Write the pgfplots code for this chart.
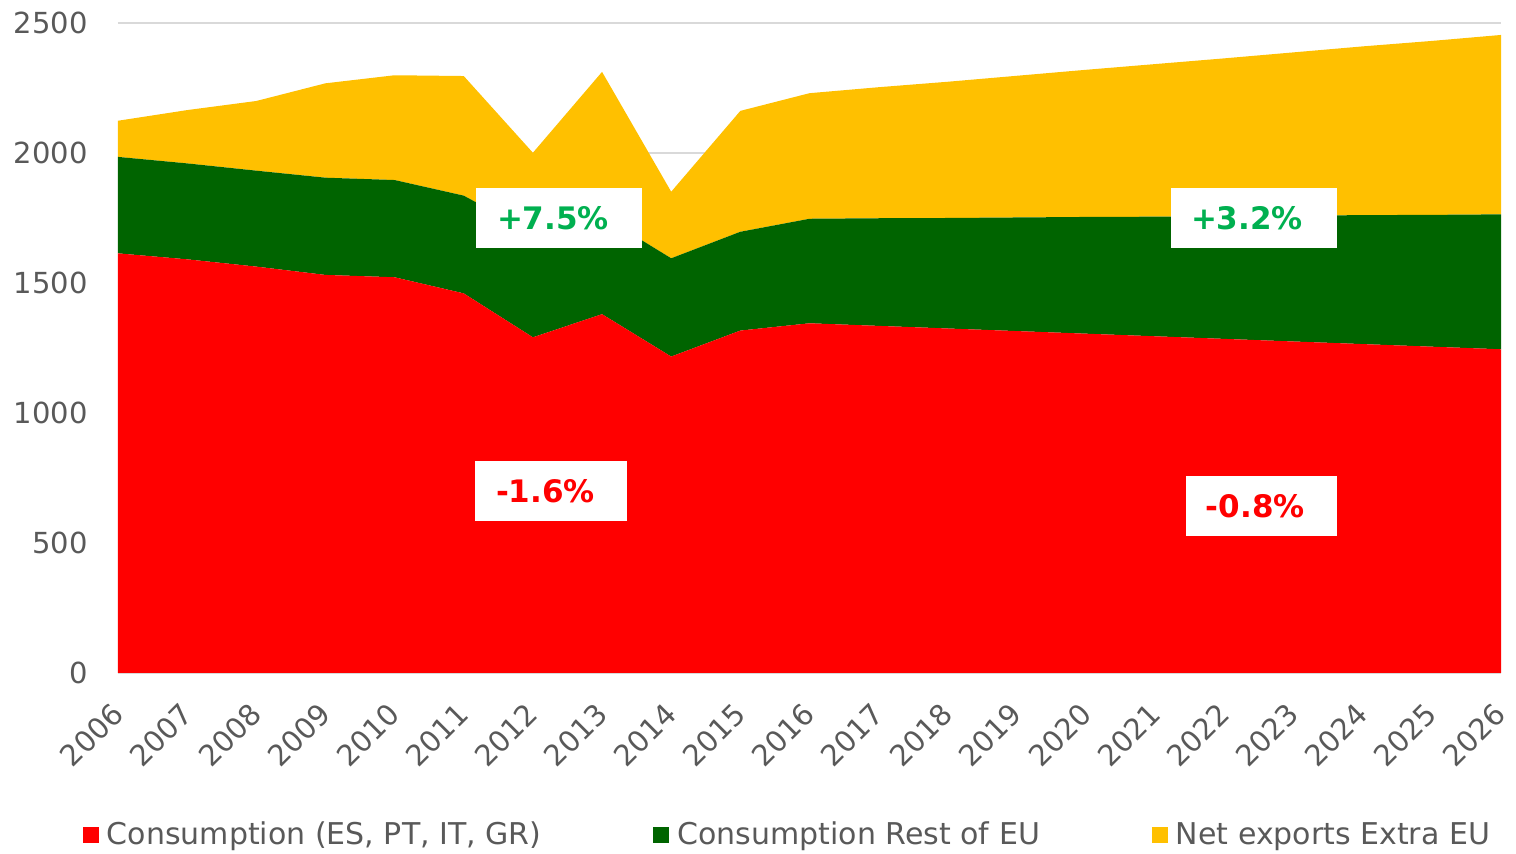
\documentclass[border=0pt]{standalone}
\usepackage{pgfplots}
\usepackage{pgfplotstable}
\pgfplotsset{compat=1.18}
\usepackage{fontspec}
\setmainfont{DejaVu Sans}
\definecolor{cred}{HTML}{FF0000}
\definecolor{cgreen}{HTML}{006400}
\definecolor{cyellow}{HTML}{FFC000}
\definecolor{lgreen}{HTML}{00B050}
\definecolor{tgray}{HTML}{595959}
\definecolor{gridc}{HTML}{D9D9D9}
\pgfplotstableread{
year red green yellow
2006 1614 371 139
2007 1591 369 205
2008 1563 369 268
2009 1531 374 363
2010 1522 374 403
2011 1460 376 460
2012 1291 401 309
2013 1380 378 554
2014 1217 378 256
2015 1317 380 465
2016 1345 402 483
2017 1335 414 504
2018 1325 425 524
2019 1315 437 545
2020 1305 449 566
2021 1295 460 587
2022 1285 472 607
2023 1275 484 628
2024 1265 496 649
2025 1255 507 669
2026 1245 519 690
}\datatable
\newcommand{\tfont}{\fontsize{14.5}{17}\selectfont}
\newcommand{\gfont}{\fontsize{15}{18}\selectfont}
\newcommand{\lfont}{\fontsize{15.5}{18}\selectfont}
\tikzset{lbl/.style={fill=white, minimum height=30pt, inner ysep=0pt, inner xsep=10.5pt, align=left, font=\bfseries\lfont}}
\begin{document}
\begin{tikzpicture}
\begin{axis}[name=ax, scale only axis, width=691.5pt, height=325pt,
  xmin=2006, xmax=2026, ymin=0, ymax=2500,
  stack plots=y, area style, axis on top=false,
  xtick={2006,...,2026}, ytick={0,500,...,2500},
  ymajorgrids, grid style={draw=gridc, line width=0.75pt},
  axis line style={draw=none}, major tick length=0pt,
  tick label style={font=\tfont, text=tgray},
  /pgf/number format/assume math mode=true,
  /pgf/number format/1000 sep={},
  xticklabel style={xshift=0pt, yshift=-18pt, rotate=45, anchor=east, inner sep=0pt},
  yticklabel style={anchor=east, inner sep=0pt, xshift=-15pt},
  legend columns=3,
  legend style={draw=none, fill=none, at={(0.4834,-0.249)}, anchor=center,
    font=\gfont, text=tgray, nodes={inner sep=0pt},
    /tikz/every odd column/.append style={column sep=4pt},
    /tikz/every even column/.append style={column sep=56pt}},
  legend image code/.code={\fill[#1] (0pt,-4pt) rectangle (8pt,4pt);},
]
\addplot[fill=cred, draw=none] table[x=year,y=red]{\datatable} \closedcycle;
\addlegendentry{Consumption (ES, PT, IT, GR)}
\addplot[fill=cgreen, draw=none] table[x=year,y=green]{\datatable} \closedcycle;
\addlegendentry{Consumption Rest of EU}
\addplot[fill=cyellow, draw=none] table[x=year,y=yellow]{\datatable} \closedcycle;
\addlegendentry{Net exports Extra EU}
\end{axis}
\node[lbl, text=lgreen, text width=62pt] at ([shift={(220.5pt,227.5pt)}]ax.south west) {+7.5\%};
\node[lbl, text=cred, text width=55pt] at ([shift={(216.5pt,91pt)}]ax.south west) {-1.6\%};
\node[lbl, text=lgreen, inner xsep=10pt, text width=63pt] at ([shift={(568pt,227.5pt)}]ax.south west) {+3.2\%};
\node[lbl, text=cred, inner xsep=10pt, text width=55.5pt] at ([shift={(571.7pt,83.5pt)}]ax.south west) {-0.8\%};
\pgfresetboundingbox
\path ([shift={(-59pt,-90.5pt)}]ax.south west) rectangle ([shift={(7.5pt,11.5pt)}]ax.north east);
\end{tikzpicture}
\end{document}
